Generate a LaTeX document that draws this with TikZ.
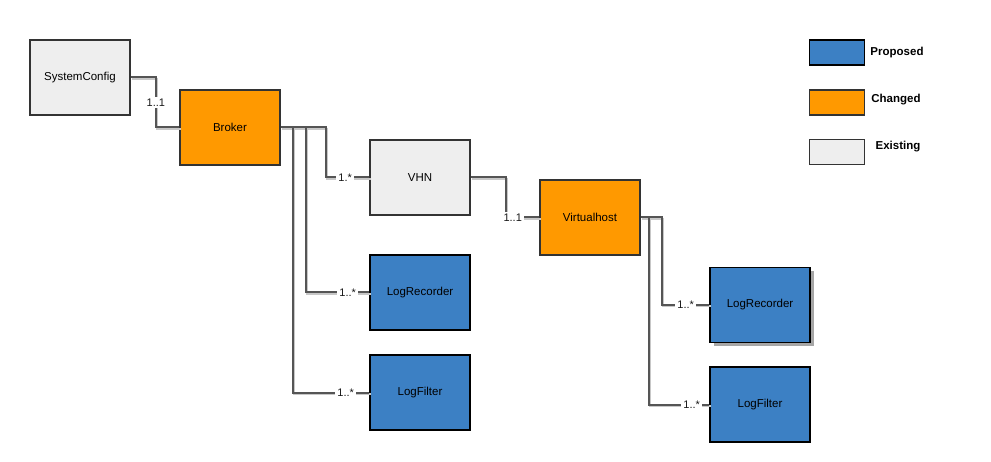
\documentclass[tikz,border=0pt]{standalone}
\usepackage{fontspec}
\setmainfont{Liberation Sans}
\usetikzlibrary{positioning, shadows}

\definecolor{proposedblue}{HTML}{3C80C4}
\definecolor{changedorange}{HTML}{FF9900}
\definecolor{existinggray}{HTML}{EEEEEE}
\definecolor{borderdark}{HTML}{333333}
\definecolor{linegray}{HTML}{555555}

\begin{document}
\begin{tikzpicture}[
    x=1pt, y=-1pt, % work in pixels, y pointing down
    box/.style={draw, line width=1.8pt, minimum width=100pt, minimum height=75pt,
        font=\fontsize{11.5}{13}\selectfont, text=black}, % class boxes
    proposed/.style={box, fill=proposedblue, draw=black},
    changed/.style={box, fill=changedorange, draw=borderdark},
    existing/.style={box, fill=existinggray, draw=borderdark},
    legbox/.style={draw, line width=1.8pt, minimum width=55pt, minimum height=25pt},
    legtext/.style={font=\bfseries\fontsize{11.5}{13}\selectfont},
    conn/.style={draw=linegray, line width=2pt,
        preaction={draw=black!22, line width=2pt, transform canvas={xshift=1.5pt, yshift=-1.5pt}}}, % connector with light shadow
    mult/.style={fill=white, inner sep=2pt, text=black!90, font=\fontsize{11}{12}\selectfont} % multiplicity labels
]

    % Fix the page to the reference size
    \useasboundingbox (0,0) rectangle (991,462);

    % Class boxes
    \node[existing] (systemconfig) at (80,77.5) {SystemConfig};
    \node[changed] (broker) at (230,127.5) {Broker};
    \node[existing] (vhn) at (420,177.5) {VHN};
    \node[changed] (virtualhost) at (590,217.5) {Virtualhost};
    \node[proposed] (logrecorderA) at (420,292.5) {LogRecorder};
    \node[proposed] (logfilterA) at (420,392.5) {LogFilter};
    \node[proposed, drop shadow={shadow xshift=4pt, shadow yshift=-4pt, fill=black!35, opacity=1}]
        (logrecorderB) at (760,305) {LogRecorder};
    \node[proposed] (logfilterB) at (760,404.5) {LogFilter};

    % Connectors from Broker
    \draw[conn] (systemconfig.east) -- ++(25,0) |- (broker.west)
        node[mult, pos=0.25] (multBroker) {1..1};
    \draw[conn] (broker.east) -- ++(45,0) |- (vhn.west);
    \draw[conn] (broker.east) -- ++(25,0) |- (logrecorderA.west);
    \draw[conn] (broker.east) -- ++(12,0) |- (logfilterA.west);

    % Connectors from VHN and Virtualhost
    \draw[conn] (vhn.east) -- ++(35,0) |- (virtualhost.west);
    \draw[conn] (virtualhost.east) -- ++(21,0) |- (logrecorderB.west);
    \draw[conn] (virtualhost.east) -- ++(8,0) |- (logfilterB.west);

    % Multiplicity labels
    \node[mult, left=15pt of vhn.west] (multVhn) {1.*};
    \node[mult, left=11pt of logrecorderA.west] (multRecA) {1..*};
    \node[mult, left=13pt of logfilterA.west] (multFilA) {1..*};
    \node[mult, left=15pt of virtualhost.west] (multVh) {1..1};
    \node[mult, left=13pt of logrecorderB.west] (multRecB) {1..*};
    \node[mult, left=7pt of logfilterB.west] (multFilB) {1..*};

    % Legend
    \node[legbox, fill=proposedblue, draw=black] (legProposed) at (837,52.5) {};
    \node[legbox, fill=changedorange, draw=borderdark] (legChanged) at (837,102.5) {};
    \node[legbox, fill=existinggray, draw=borderdark] (legExisting) at (837,152) {};
    \node[legtext] (txtProposed) at (897,52.5) {Proposed};
    \node[legtext] (txtChanged) at (896,100) {Changed};
    \node[legtext] (txtExisting) at (898,147) {Existing};

\end{tikzpicture}
\end{document}
